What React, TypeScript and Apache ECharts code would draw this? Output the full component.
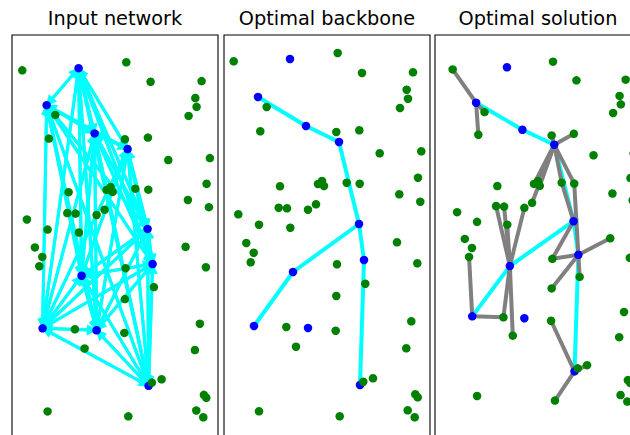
import React, { useEffect, useRef } from "react";
import * as echarts from "echarts";

const titles = ["Input network", "Optimal backbone", "Optimal solution"];

// hub nodes (blue) [x, y]
const hubs: [number, number][] = [
  [66, 24], [34, 62], [82, 91], [115, 107], [135, 189],
  [140, 225], [69, 237], [30, 291], [84, 293], [136, 350],
];

// client nodes (green) [x, y]
const clients: [number, number][] = [
  [9.7, 26.3], [42.7, 72], [36.3, 96.3], [113.7, 18], [138, 38],
  [189, 37.3], [182.7, 54.7], [184, 63.7], [176, 73], [112.3, 97],
  [135.3, 95.3], [155.7, 118.3], [197.3, 116.3], [56, 151.3], [94, 149],
  [98, 146], [100, 151], [122.7, 147.7], [135.7, 148.7], [194, 142.7],
  [175.3, 159.3], [196.3, 166.7], [54.7, 172.7], [63, 173.3], [84, 174.7],
  [92, 169.3], [14.3, 179.3], [35, 189.7], [66.3, 192.7], [22.3, 208],
  [29.7, 217.7], [26.7, 227.3], [173, 207.3], [113, 229.3], [193.3, 228.3],
  [141.3, 248.7], [112.3, 261], [62.3, 292], [72, 311.7], [187.3, 286.3],
  [111.7, 295.7], [182.3, 313.3], [139.3, 346.7], [149, 343.3], [191.3, 359.3],
  [193.7, 362.3], [183.7, 375.3], [190.7, 382.3], [115.7, 381.3], [35, 376.3],
];

// backbone edges between hubs [hubA, hubB]
const backbone: [number, number][] = [
  [1, 2], [2, 3], [3, 4], [4, 5], [5, 9], [4, 6], [6, 7],
];

// access edges [hub, client]
const access: [number, number][] = [
  [1, 0], [1, 2], [1, 1], [3, 9], [3, 10], [3, 14], [3, 15], [3, 16],
  [3, 25], [3, 17], [3, 18], [4, 17], [5, 18], [4, 33], [5, 33], [5, 32],
  [5, 35], [5, 36], [6, 22], [6, 23], [6, 28], [6, 24], [6, 37], [6, 38],
  [7, 31], [7, 37], [9, 40], [9, 48], [9, 42], [9, 43],
];

const BLUE = "#0000ff";
const GREEN = "#008000";
const CYAN = "#00ffff";
const GREY = "#808080";

const panels = [
  { left: 12, xMin: -0.6, xMax: 205.4, yMin: -10, yMax: 421 },
  { left: 224, xMin: 0, xMax: 206, yMin: 0, yMax: 420 },
  { left: 435, xMin: -8.6, xMax: 204.9, yMin: -10.6, yMax: 439.6 },
];
const GRID_TOP = 35;
const GRID_W = 206;
const GRID_H = 420;

export default function App() {
  const ref = useRef<HTMLDivElement>(null);
  useEffect(() => {
    if (!ref.current) return;
    const chart = echarts.init(ref.current, null, { renderer: "svg" });
    const nodes = [
      ...hubs.map((p) => ({ value: p, itemStyle: { color: BLUE } })),
      ...clients.map((p) => ({ value: p, itemStyle: { color: GREEN } })),
    ];
    const hubCount = hubs.length;

    const completeLinks: any[] = [];
    for (let i = 0; i < hubCount; i++)
      for (let j = 0; j < hubCount; j++)
        if (i !== j) completeLinks.push({ source: i, target: j });

    const backboneLinks = backbone.map(([a, b]) => ({
      source: a,
      target: b,
      lineStyle: { color: CYAN, width: 4, opacity: 1 },
    }));
    const accessLinks = access.map(([h, c]) => ({
      source: h,
      target: hubCount + c,
      lineStyle: { color: GREY, width: 4, opacity: 1 },
    }));

    const linkSets = [completeLinks, backboneLinks, [...backboneLinks, ...accessLinks]];

    chart.setOption({
      animation: false,
      grid: panels.map((p) => ({
        left: p.left,
        top: GRID_TOP,
        width: GRID_W,
        height: GRID_H,
        show: true,
        borderColor: "#000",
        borderWidth: 1.1,
        backgroundColor: "transparent",
      })),
      xAxis: panels.map((p, i) => ({
        type: "value",
        gridIndex: i,
        min: p.xMin,
        max: p.xMax,
        show: false,
      })),
      yAxis: panels.map((p, i) => ({
        type: "value",
        gridIndex: i,
        min: p.yMin,
        max: p.yMax,
        inverse: true,
        show: false,
      })),
      graphic: titles.map((t, i) => ({
        type: "text",
        x: panels[i].left + GRID_W / 2,
        y: 18,
        style: {
          text: t,
          fill: "#000",
          font: "19.3px 'DejaVu Sans'",
          align: "center",
          verticalAlign: "middle",
        },
      })),
      series: panels.map((p, i) => ({
        type: "graph",
        coordinateSystem: "cartesian2d",
        xAxisIndex: i,
        yAxisIndex: i,
        silent: true,
        layout: "none",
        symbol: "circle",
        symbolSize: 8.5,
        data: nodes,
        links: linkSets[i],
        edgeSymbol: i === 0 ? ["none", "triangle"] : ["none", "none"],
        edgeSymbolSize: [0, 11],
        lineStyle: { color: CYAN, width: 3, opacity: 1, curveness: 0 },
        emphasis: { disabled: true },
        label: { show: false },
      })),
    });
    return () => chart.dispose();
  }, []);
  return (
    <div
      style={{
        position: "fixed",
        left: 0,
        top: 0,
        width: 630,
        height: 435,
        overflow: "hidden",
        background: "#fff",
      }}
    >
      <div ref={ref} style={{ width: 660, height: 480 }} />
    </div>
  );
}
